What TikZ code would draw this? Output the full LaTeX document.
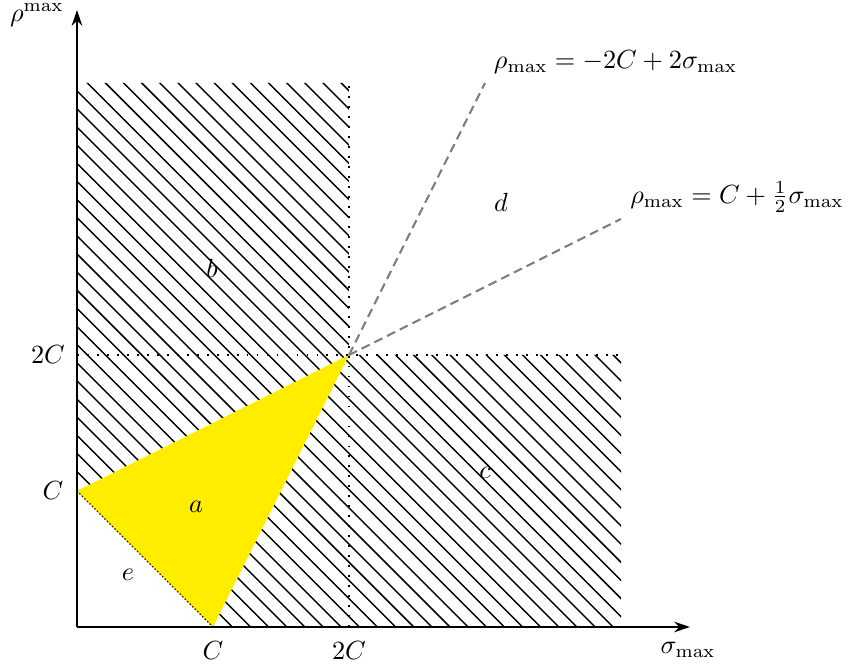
\documentclass[tikz,border=0pt]{standalone}
\usetikzlibrary{arrows.meta}
\definecolor{triyellow}{RGB}{255,237,0}
\begin{document}
\begin{tikzpicture}[x=1.82cm,y=1.82cm,
  axis/.style={line width=0.8pt,-{Stealth[length=6pt,width=4pt]}},
  hatch/.style={line width=0.55pt},
  guide/.style={line width=0.7pt,dash pattern=on 0.7pt off 3.1pt},
  fineguide/.style={line width=0.45pt,dash pattern=on 0.45pt off 0.9pt},
  ray/.style={gray,line width=0.8pt,dash pattern=on 3.4pt off 2pt},
  lbl/.style={inner sep=0pt}]
\useasboundingbox (-0.566,-0.279) rectangle (5.669,4.610);
\coordinate (O) at (0,0);
\coordinate (P) at (2,2);
\coordinate (Cy) at (0,1);
\coordinate (Cx) at (1,0);
\coordinate (Xend) at (4.507,0);
\coordinate (Yend) at (0,4.537);
\coordinate (R1) at (3,4);
\coordinate (R2) at (4,3);
\coordinate (G1a) at (0,2);
\coordinate (G1b) at (4,2);
\coordinate (G2a) at (2,0);
\coordinate (G2b) at (2,4);
% hatched region
\begin{scope}
\clip (0,1) -- (0,4) -- (2,4) -- (2,2) -- (4,2) -- (4,0) -- (1,0) -- cycle;
\foreach \k in {0,...,60}
  \draw[hatch] ({0.076+\k*2/15},0) -- (0,{0.076+\k*2/15});
\end{scope}
% triangle a
\fill[triyellow] (Cy) -- (Cx) -- (P) -- cycle;
% guides
\draw[guide] (G1a) -- (G1b);
\draw[guide] (G2a) -- (G2b);
\draw[fineguide] (Cy) -- (Cx);
% rays
\draw[ray] (P) -- (R1);
\draw[ray] (P) -- (R2);
% axes
\draw[axis] (O) -- (Xend);
\draw[axis] (O) -- (Yend);
% labels
\node[lbl] (ylab) at (-0.294,4.5) {$\rho^{\max}$};
\node[lbl] (xlab) at (4.493,-0.169) {$\sigma_{\max}$};
\node[lbl] (xC) at (1,-0.17) {$C$};
\node[lbl] (x2C) at (2,-0.17) {$2C$};
\node[lbl] (yC) at (-0.176,1) {$C$};
\node[lbl] (y2C) at (-0.213,2) {$2C$};
\node[lbl] (l1) at (3.96,4.151) {$\rho_{\max}=-2C+2\sigma_{\max}$};
\node[lbl] (l2) at (4.853,3.162) {$\rho_{\max}=C+\frac{1}{2}\sigma_{\max}$};
\node[lbl] (a) at (0.875,0.882) {$a$};
\node[lbl] (b) at (0.993,2.640) {$b$};
\node[lbl] (c) at (3.0,1.132) {$c$};
\node[lbl] (d) at (3.118,3.125) {$d$};
\node[lbl] (e) at (0.375,0.382) {$e$};
\end{tikzpicture}
\end{document}
